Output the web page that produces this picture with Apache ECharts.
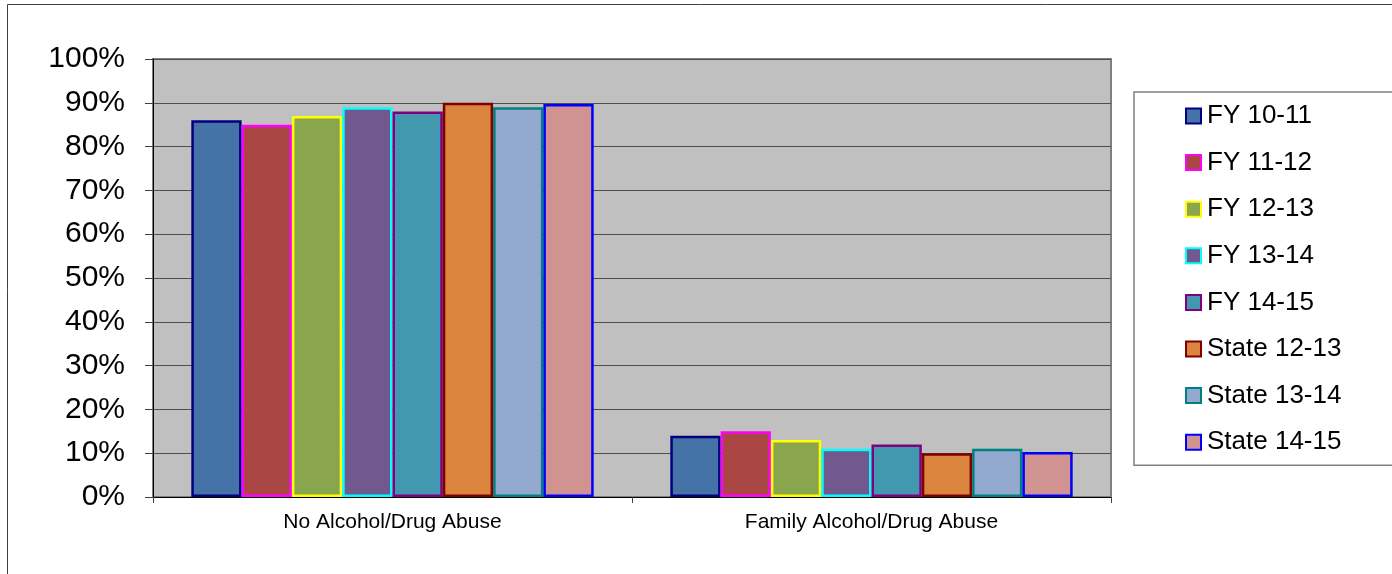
<!DOCTYPE html>
<html>
<head>
<meta charset="utf-8">
<script src="https://cdn.jsdelivr.net/npm/echarts@6/dist/echarts.min.js"></script>
<style>
html,body{margin:0;padding:0;background:#fff;}
#chart{width:1392px;height:574px;}
</style>
</head>
<body>
<div id="chart"></div>
<script>
const categories = ["No Alcohol/Drug Abuse", "Family Alcohol/Drug Abuse"];
const seriesNames = ["FY 10-11", "FY 11-12", "FY 12-13", "FY 13-14", "FY 14-15", "State 12-13", "State 13-14", "State 14-15"];
const fy1011 = [86, 14];
const fy1112 = [85, 15];
const fy1213 = [87, 13];
const fy1314 = [89, 11];
const fy1415 = [88, 12];
const state1213 = [90, 10];
const state1314 = [89, 11];
const state1415 = [89.7, 10.3];
const yTicks = [0, 10, 20, 30, 40, 50, 60, 70, 80, 90, 100];

const seriesValues = [fy1011, fy1112, fy1213, fy1314, fy1415, state1213, state1314, state1415];
const fills = ["#4572A7", "#AA4643", "#89A54E", "#71588F", "#4198AF", "#DB843D", "#93A9CF", "#D19392"];
const borders = ["#000080", "#FF00FF", "#FFFF00", "#00FFFF", "#800080", "#800000", "#008080", "#0000FF"];

const FONT = "'Liberation Sans', Arial, sans-serif";

const chart = echarts.init(document.getElementById('chart'), null, {renderer: 'canvas'});
const option = {
  animation: false,
  backgroundColor: '#ffffff',
  textStyle: {fontFamily: FONT},
  graphic: [{
    type: 'rect',
    shape: {x: 7.5, y: 4.5, width: 1500, height: 700},
    style: {fill: 'none', stroke: '#404040', lineWidth: 1},
    silent: true, z: -10
  }],
  grid: {
    left: 153, right: 281, top: 59, bottom: 77,
    show: true, backgroundColor: '#C0C0C0', borderColor: '#808080', borderWidth: 2
  },
  legend: {
    orient: 'vertical',
    left: 1134, top: 92,
    padding: [11, 90, 10, 51],
    backgroundColor: '#ffffff',
    borderColor: '#808080', borderWidth: 1.5,
    itemWidth: 15, itemHeight: 15,
    itemGap: 20.6,
    icon: 'rect',
    textStyle: {fontFamily: FONT, fontSize: 26, color: '#000', lineHeight: 26, padding: [0, 0, 0, 1]},
    data: seriesNames
  },
  xAxis: {
    type: 'category',
    data: categories,
    axisLine: {lineStyle: {color: '#000', width: 1}},
    axisTick: {show: true, length: 6, lineStyle: {color: '#404040'}},
    axisLabel: {fontFamily: FONT, fontSize: 21, color: '#000', margin: 15}
  },
  yAxis: {
    type: 'value',
    min: 0, max: 100, interval: 10,
    axisLine: {show: true, lineStyle: {color: '#000', width: 1}},
    axisTick: {show: true, length: 8, lineStyle: {color: '#404040'}},
    axisLabel: {fontFamily: FONT, fontSize: 30, color: '#000', margin: 28,
      formatter: v => yTicks.indexOf(v) >= 0 ? v + '%' : ''},
    splitLine: {show: true, lineStyle: {color: '#505050', width: 1}}
  },
  series: seriesNames.map((name, i) => ({
    name: name,
    type: 'bar',
    data: seriesValues[i],
    barGap: '0%',
    barCategoryGap: '16%',
    itemStyle: {color: fills[i], borderColor: borders[i], borderWidth: 2.5}
  }))
};
chart.setOption(option);
</script>
</body>
</html>
